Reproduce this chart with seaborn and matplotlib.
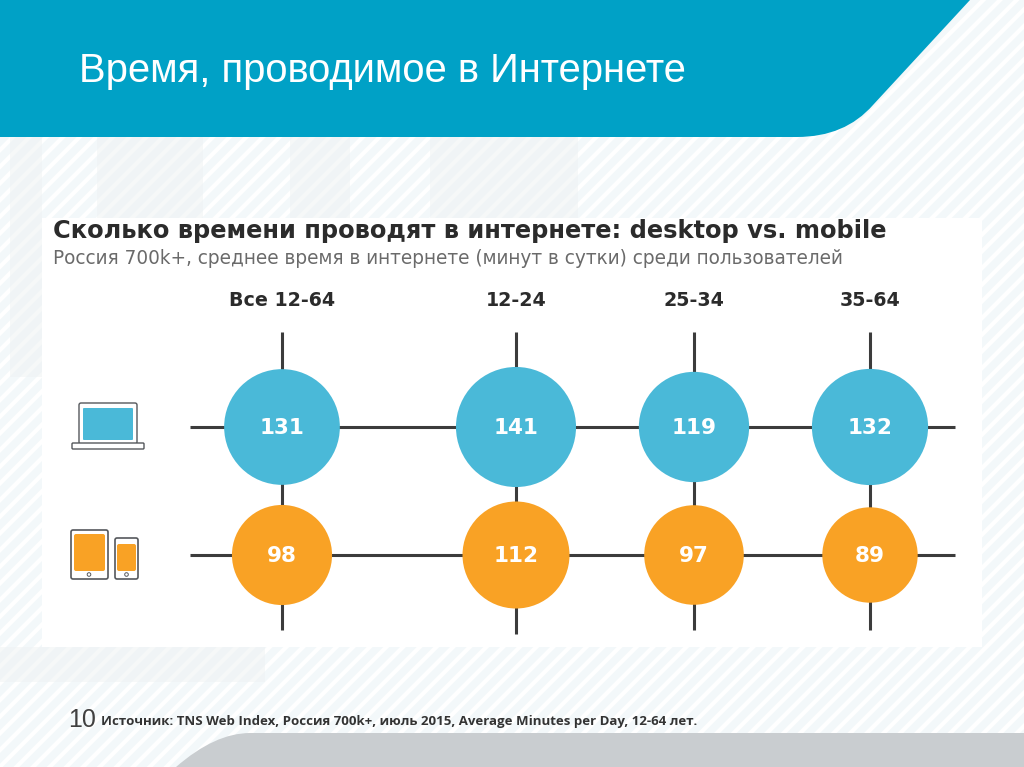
"""
Time spent online, desktop vs. mobile, drawn as a slide in pixel coordinates.
Bubble area follows the minutes per day.
"""

import matplotlib
matplotlib.use("Agg")
import matplotlib.pyplot as plt
from matplotlib.patches import Circle, FancyBboxPatch, PathPatch, Rectangle
from matplotlib.path import Path
import pandas as pd
import seaborn as sns

AGE_GROUPS = ["Все 12-64", "12-24", "25-34", "35-64"]
DESKTOP_MINUTES = [131, 141, 119, 132]
MOBILE_MINUTES = [98, 112, 97, 89]

# layout, in pixels of the slide
COLUMN_X = {"Все 12-64": 282, "12-24": 516, "25-34": 694, "35-64": 870}
ROW_Y = {"desktop": 427, "mobile": 555}
LINE_BOTTOM = {"Все 12-64": 630, "12-24": 634, "25-34": 630, "35-64": 630}

BLUE = "#4ab9d8"
ORANGE = "#f9a225"
TEAL = "#00a1c6"
LINE = "#3c3c3c"
ICON = "#55585c"

sns.set_theme(style="white")
plt.rcParams["hatch.linewidth"] = 3
plt.rcParams["hatch.color"] = "#fbfdfe"

fig = plt.figure(figsize=(10.24, 7.67), dpi=100)
ax = fig.add_axes([0, 0, 1, 1])
ax.set_xlim(0, 1024)
ax.set_ylim(767, 0)
ax.axis("off")

# slide background
ax.add_patch(Rectangle((0, 0), 1024, 767, facecolor="#f3f8fa", hatch="//", linewidth=0, zorder=0))
for x, y, w, h in [(97, 137, 106, 81), (290, 137, 60, 81), (430, 137, 148, 81), (0, 647, 265, 35), (10, 137, 32, 240)]:
    ax.add_patch(Rectangle((x, y), w, h, facecolor="#eef2f3", alpha=0.5, linewidth=0, zorder=0.5))

# header band with the rounded lower right corner
header = Path(
    [(0, 0), (970, 0), (873, 105), (845, 137), (797, 137), (0, 137), (0, 0)],
    [Path.MOVETO, Path.LINETO, Path.LINETO, Path.CURVE3, Path.CURVE3, Path.LINETO, Path.CLOSEPOLY],
)
ax.add_patch(PathPatch(header, facecolor=TEAL, linewidth=0, zorder=1))

footer = Path(
    [(176, 767), (215, 733), (250, 733), (1024, 733), (1024, 767), (176, 767)],
    [Path.MOVETO, Path.CURVE3, Path.CURVE3, Path.LINETO, Path.LINETO, Path.CLOSEPOLY],
)
ax.add_patch(PathPatch(footer, facecolor="#c9cdd0", linewidth=0, zorder=1))

# white panel behind the chart
ax.add_patch(Rectangle((42, 218), 940, 429, facecolor="#ffffff", linewidth=0, zorder=1))

# grid of connector lines
for y in ROW_Y.values():
    ax.plot([190, 955], [y, y], color=LINE, lw=2.2, solid_capstyle="butt", zorder=2)
for group in AGE_GROUPS:
    ax.plot([COLUMN_X[group]] * 2, [332, LINE_BOTTOM[group]], color=LINE, lw=2.2,
            solid_capstyle="butt", zorder=2)

bubbles = pd.DataFrame({
    "group": AGE_GROUPS * 2,
    "device": ["desktop"] * len(AGE_GROUPS) + ["mobile"] * len(AGE_GROUPS),
    "minutes": DESKTOP_MINUTES + MOBILE_MINUTES,
})
bubbles["x"] = bubbles["group"].map(COLUMN_X)
bubbles["y"] = bubbles["device"].map(ROW_Y)

sns.scatterplot(
    data=bubbles, x="x", y="y", hue="device", size="minutes",
    palette={"desktop": BLUE, "mobile": ORANGE},
    sizes=(0, 53 * 150), size_norm=(0, 150),
    linewidth=0, alpha=1, legend=False, ax=ax, zorder=3,
)
ax.set_xlim(0, 1024)
ax.set_ylim(767, 0)
ax.axis("off")

for row in bubbles.itertuples():
    ax.text(row.x, row.y + 1, str(row.minutes), color="#ffffff", fontsize=15.5, fontweight="bold",
            family="DejaVu Sans", ha="center", va="center", zorder=4)

for group in AGE_GROUPS:
    ax.text(COLUMN_X[group], 300, group, color="#2b2b2b", fontsize=13.7, fontweight="bold",
            family="DejaVu Sans", ha="center", va="center", zorder=4)

# texts
ax.text(79, 71, "Время, проводимое в Интернете", color="#ffffff", fontsize=28.8,
        family="Liberation Sans", ha="left", va="center", zorder=4)
ax.text(53, 231, "Сколько времени проводят в интернете: desktop vs. mobile", color="#2b2b2b",
        fontsize=17.4, fontweight="bold", family="DejaVu Sans", ha="left", va="center", zorder=4)
ax.text(53, 258, "Россия 700k+, среднее время в интернете (минут в сутки) среди пользователей",
        color="#6a6a6a", fontsize=13.35, family="DejaVu Sans", ha="left", va="center", zorder=4)
ax.text(68, 720, "10", color="#404040", fontsize=18, family="Liberation Sans",
        ha="left", va="center", zorder=4)
ax.text(101, 722, "Источник: TNS Web Index, Россия 700k+, июль 2015, Average Minutes per Day, 12-64 лет.",
        color="#333333", fontsize=9.5, fontweight="bold", family="Open Sans", ha="left", va="center", zorder=4)


def rounded(x, y, w, h, face, edge=ICON, lw=1.0, pad=2):
    ax.add_patch(FancyBboxPatch((x + pad, y + pad), w - 2 * pad, h - 2 * pad,
                                boxstyle=f"round,pad={pad}", facecolor=face, edgecolor=edge,
                                linewidth=lw, zorder=3))


# laptop icon
rounded(79, 403, 58, 41, "#ffffff")
rounded(83, 408, 50, 32, BLUE, edge="none", lw=0, pad=1)
rounded(72, 443, 72, 6, "#ffffff", pad=1)

# tablet and phone icons
rounded(71, 530, 37, 49, "#ffffff", lw=1.2)
rounded(74, 534, 31, 37, ORANGE, edge="none", lw=0, pad=2)
ax.add_patch(Circle((89, 574.5), 1.8, facecolor="#ffffff", edgecolor=ICON, linewidth=0.7, zorder=3))
rounded(115, 538, 23, 41, "#ffffff", lw=1.2)
rounded(117, 544, 19, 27, ORANGE, edge="none", lw=0, pad=2)
ax.add_patch(Circle((126.5, 574.5), 1.8, facecolor="#ffffff", edgecolor=ICON, linewidth=0.7, zorder=3))

fig.savefig("out.png", dpi=100)
plt.close(fig)
